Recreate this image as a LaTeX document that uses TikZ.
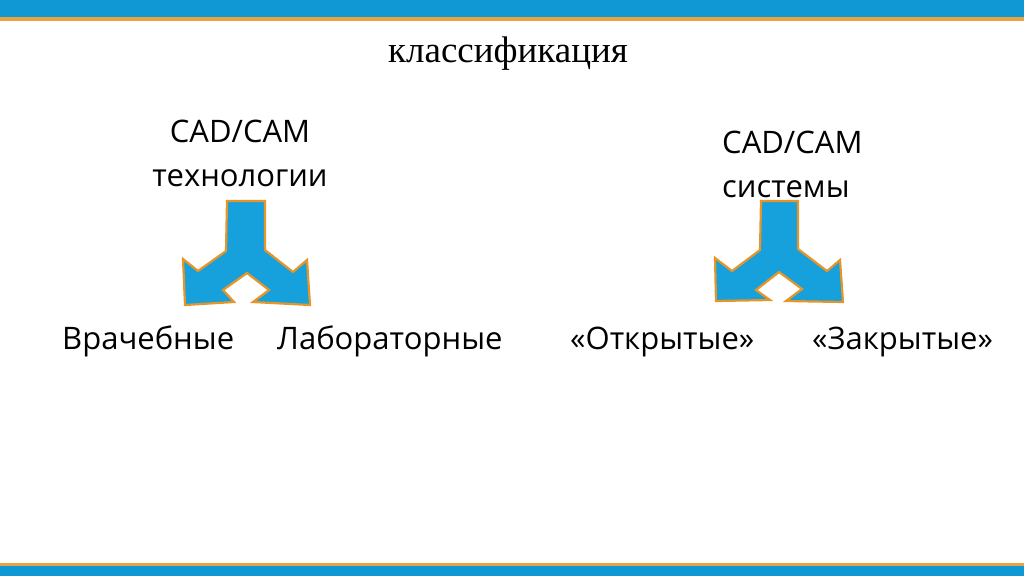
\documentclass[tikz,border=0pt]{standalone}
\usepackage{fontspec}
\setmainfont{Open Sans}
\newfontfamily\titlefont{Liberation Serif}
\definecolor{bandblue}{RGB}{16,152,212}
\definecolor{bandorange}{RGB}{232,164,64}
\definecolor{arrowblue}{RGB}{22,160,220}
\definecolor{arroworange}{RGB}{230,150,40}
\tikzset{
  lbl/.style={font=\fontsize{31}{44}\selectfont, inner sep=0pt, anchor=base},
  fork/.style={fill=arrowblue, draw=arroworange, line width=2.2pt, line join=miter},
}
\begin{document}
\begin{tikzpicture}[x=1pt,y=-1pt]
\useasboundingbox (0,0) rectangle (1024,576);
% bands
\fill[bandblue] (0,0) rectangle (1024,17);
\fill[bandorange] (0,17) rectangle (1024,20.5);
\fill[bandorange] (0,562.5) rectangle (1024,566);
\fill[bandblue] (0,566) rectangle (1024,576);
% title
\node[inner sep=0pt, anchor=base, font=\titlefont\fontsize{37}{44}\selectfont] (title) at (508,62) {классификация};
% upper labels
\node[lbl] (cad1) at (240,142) {CAD/CAM};
\node[lbl] (tech) at (240,186) {технологии};
\node[lbl, anchor=base west] (cad2) at (722,153) {CAD/CAM};
\node[lbl, anchor=base west] (sys) at (722,197) {системы};
% bottom labels
\node[lbl, anchor=base west] (vrach) at (62,349) {Врачебные};
\node[lbl, anchor=base west] (lab) at (277,349) {Лабораторные};
\node[lbl, anchor=base west] (open) at (570,349) {«Открытые»};
\node[lbl, anchor=base west] (closed) at (812,349) {«Закрытые»};
% left fork arrow
\draw[fork] (227,201) -- (265,201) -- (265,250) -- (293,272) -- (307,260) -- (310,305)
  -- (253,302) -- (269,290) -- (247,273) -- (223,290) -- (234,302) -- (185,305)
  -- (183,259) -- (198,271) -- (226,251) -- cycle;
% right fork arrow
\draw[fork] (761,201) -- (798,201) -- (798,249) -- (827,271) -- (840,260) -- (843,302)
  -- (786,301) -- (802,289) -- (779,272) -- (756,290) -- (770,300) -- (716,301)
  -- (715,258) -- (732,271) -- (760,250) -- cycle;
\end{tikzpicture}
\end{document}
